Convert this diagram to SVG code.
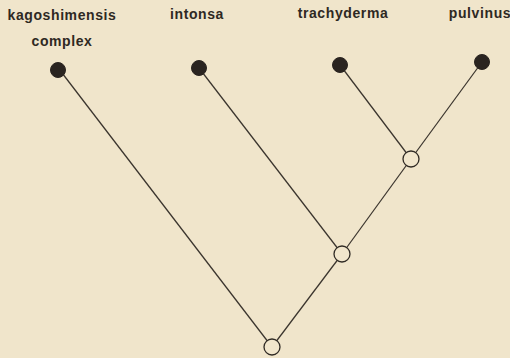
<svg xmlns="http://www.w3.org/2000/svg" width="510" height="358" viewBox="0 0 510 358">
  <style>
    .label { font-family: "Liberation Sans", Arial, sans-serif; font-size: 14px; font-weight: bold; fill: #2e2923; text-anchor: middle; letter-spacing: 0.6px; }
    .edge { stroke: #3b352e; stroke-width: 1.25; fill: none; }
    .leaf { fill: #2a2420; stroke: #2a2420; stroke-width: 1; }
    .inner { fill: #f1e6cc; stroke: #2f2a24; stroke-width: 1.3; }
  </style>
  <rect width="510" height="358" fill="#f0e5cb"/>

  <!-- branches -->
  <g id="connectors">
    <line class="edge" x1="59" y1="69" x2="272" y2="347"/>
    <line class="edge" x1="199" y1="68" x2="342" y2="254"/>
    <line class="edge" x1="340" y1="65" x2="411" y2="159"/>
    <line class="edge" x1="482" y1="62" x2="411" y2="159"/>
    <line class="edge" x1="411" y1="159" x2="342" y2="254"/>
    <line class="edge" x1="342" y1="254" x2="272" y2="347"/>
  </g>

  <!-- terminal taxa -->
  <g id="kagoshimensis">
    <text class="label" x="62" y="20">kagoshimensis</text>
    <text class="label" x="62" y="46">complex</text>
    <circle class="leaf" cx="58" cy="70" r="7.5"/>
  </g>
  <g id="intonsa">
    <text class="label" x="197" y="19">intonsa</text>
    <circle class="leaf" cx="199" cy="68" r="7.5"/>
  </g>
  <g id="trachyderma">
    <text class="label" x="343" y="18">trachyderma</text>
    <circle class="leaf" cx="340" cy="65" r="7.5"/>
  </g>
  <g id="pulvinus">
    <text class="label" x="480" y="18">pulvinus</text>
    <circle class="leaf" cx="482" cy="62" r="7.5"/>
  </g>

  <!-- ancestral nodes -->
  <g id="node-a">
    <circle class="inner" cx="411" cy="159" r="8"/>
  </g>
  <g id="node-b">
    <circle class="inner" cx="342" cy="254" r="8"/>
  </g>
  <g id="node-root">
    <circle class="inner" cx="272" cy="347" r="8"/>
  </g>
</svg>
